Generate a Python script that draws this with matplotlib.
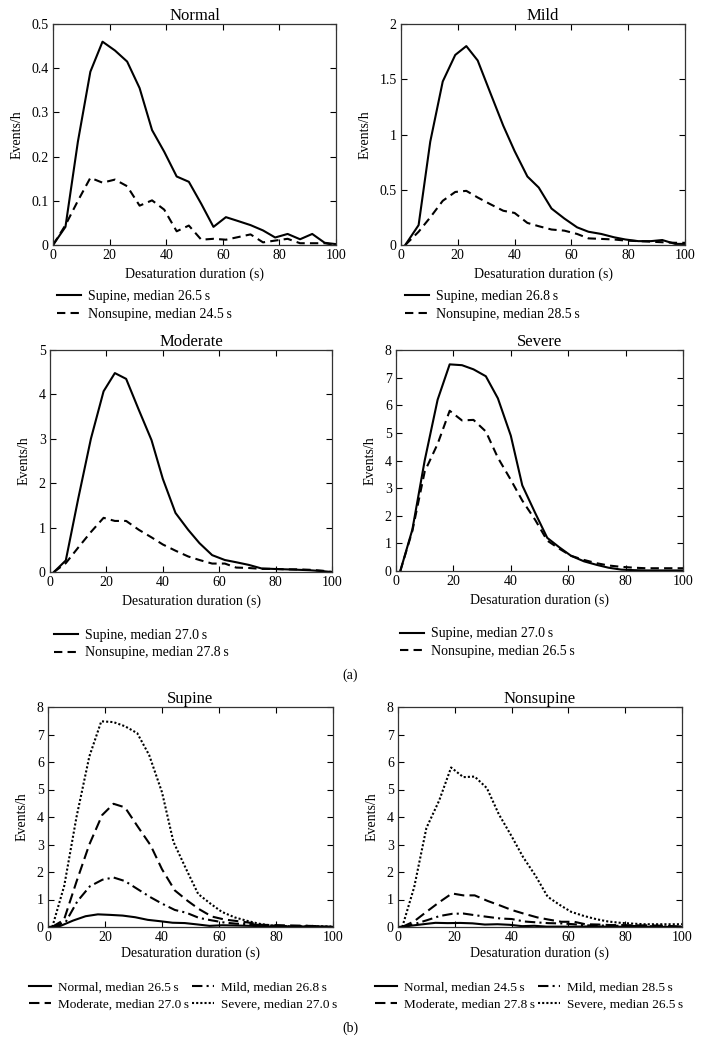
import numpy as np
import matplotlib
matplotlib.use("Agg")
import matplotlib.pyplot as plt
from matplotlib.ticker import FormatStrFormatter

plt.rcParams['font.family'] = ['Liberation Serif', 'DejaVu Serif']
plt.rcParams['font.size'] = 10

# x grids (s)
x_normal = [0, 4.4, 8.8, 13.2, 17.5, 21.9, 26.2, 30.6, 35, 39.3, 43.7, 48, 52.4,
            56.7, 61.1, 65.5, 69.8, 74.2, 78.5, 82.9, 87.3, 91.6, 96, 100]
x_mild = [1.5, 6.2, 10.3, 14.7, 19.1, 23, 27, 31.4, 36, 40, 44.5, 48.5, 53,
          57.5, 62, 66, 70.5, 75, 79, 83.5, 88, 92, 96.5, 100]
x_moderate = [1.4, 5.6, 10, 14.5, 19, 23, 27, 31.5, 36, 40, 44.5, 49, 53,
              57.5, 62, 66, 70.5, 75, 79, 83.5, 88, 92, 96.5, 100]
x_severe = [1.5, 5.7, 10, 14.5, 18.7, 23, 27, 31.3, 35.5, 40, 44, 48.5, 52.7,
            57, 61, 65.5, 70, 74, 78.5, 83, 87, 91.5, 96, 100]

normal_sup = [0, 0.041, 0.234, 0.392, 0.46, 0.44, 0.415, 0.355, 0.26, 0.211, 0.155, 0.143,
              0.093, 0.041, 0.063, 0.054, 0.045, 0.033, 0.017, 0.025, 0.013, 0.025, 0.005, 0.002]
normal_non = [0, 0.045, 0.1, 0.152, 0.141, 0.148, 0.133, 0.089, 0.101, 0.08, 0.031, 0.044,
              0.012, 0.014, 0.012, 0.018, 0.024, 0.006, 0.01, 0.014, 0.004, 0.004, 0.004, 0.0]
mild_sup = [0, 0.18, 0.935, 1.48, 1.72, 1.80, 1.67, 1.38, 1.08, 0.85, 0.62, 0.52,
            0.33, 0.24, 0.16, 0.12, 0.10, 0.07, 0.05, 0.035, 0.035, 0.045, 0.01, 0.01]
mild_non = [0, 0.12, 0.25, 0.40, 0.48, 0.49, 0.43, 0.37, 0.31, 0.29, 0.2, 0.17,
            0.14, 0.13, 0.10, 0.06, 0.055, 0.05, 0.04, 0.035, 0.03, 0.025, 0.02, 0.02]
moderate_sup = [0, 0.26, 1.65, 3.0, 4.07, 4.48, 4.35, 3.65, 2.97, 2.1, 1.33, 0.95,
                0.65, 0.38, 0.27, 0.22, 0.16, 0.08, 0.07, 0.06, 0.05, 0.04, 0.02, 0.0]
moderate_non = [0, 0.2, 0.55, 0.9, 1.22, 1.15, 1.15, 0.95, 0.78, 0.62, 0.48, 0.35,
                0.27, 0.19, 0.19, 0.1, 0.09, 0.07, 0.07, 0.06, 0.06, 0.05, 0.03, 0.0]
severe_sup = [0, 1.5, 4.0, 6.2, 7.48, 7.45, 7.3, 7.05, 6.25, 4.9, 3.1, 2.1,
              1.2, 0.85, 0.55, 0.35, 0.22, 0.12, 0.05, 0.03, 0.02, 0.02, 0.02, 0.02]
severe_non = [0, 1.45, 3.6, 4.6, 5.8, 5.45, 5.47, 5.05, 4.1, 3.3, 2.55, 1.85,
              1.1, 0.8, 0.55, 0.4, 0.28, 0.2, 0.15, 0.12, 0.1, 0.1, 0.1, 0.1]

groups = ['Normal', 'Mild', 'Moderate', 'Severe']
xs = [x_normal, x_mild, x_moderate, x_severe]
sup = [normal_sup, mild_sup, moderate_sup, severe_sup]
non = [normal_non, mild_non, moderate_non, severe_non]
med_sup = ['26.5', '26.8', '27.0', '27.0']
med_non = ['24.5', '28.5', '27.8', '26.5']
ymax = [0.5, 2, 5, 8]
yticks = [np.arange(0, 0.51, 0.1), [0, 0.5, 1, 1.5, 2], range(6), range(9)]

W, H = 702, 1042
fig = plt.figure(figsize=(W / 100, H / 100), dpi=100)


def px_axes(l, t, r, b):
    return fig.add_axes([l / W, 1 - b / H, (r - l) / W, (b - t) / H])


def style(ax, title, top, lpad=4):
    ax.set_xlim(0, 100)
    ax.set_ylim(0, top)
    ax.set_xticks([0, 20, 40, 60, 80, 100])
    ax.tick_params(direction='in', top=True, right=True, length=4, width=0.8, pad=3)
    for s in ax.spines.values():
        s.set_linewidth(0.9)
        s.set_color('#333333')
    ax.set_title(title, pad=3)
    ax.set_xlabel('Desaturation duration (s)', labelpad=lpad)
    ax.set_ylabel('Events/h', labelpad=6)


boxes = [(53, 24, 336, 245), (401, 24, 685, 245), (50, 350, 332, 572), (396, 350, 683, 571)]
leg_y = [-0.18, -0.18, -0.23, -0.23]
for i in range(4):
    ax = px_axes(*boxes[i])
    ax.plot(xs[i], sup[i], color='black', lw=1.5, ls='-',
            label='Supine, median %s\u2009s' % med_sup[i])
    ax.plot(xs[i], non[i], color='black', lw=1.5, ls=(0, (4, 2.5)),
            label='Nonsupine, median %s\u2009s' % med_non[i])
    style(ax, groups[i], ymax[i])
    ax.set_yticks(list(yticks[i]))
    ax.yaxis.set_major_formatter(FormatStrFormatter('%g'))
    ax.legend(loc='upper left', bbox_to_anchor=(-0.005, leg_y[i]), frameon=False,
              handlelength=1.7, handletextpad=0.5, labelspacing=0.35, borderaxespad=0)

fig.text(350 / W, 1 - 675 / H, '(a)', ha='center', va='center')

styles = ['-', (0, (5, 2, 1, 2)), (0, (5, 2.5)), (0, (1, 1))]
panels_b = [('Supine', sup, med_sup, (48, 707, 333, 927), -0.085),
            ('Nonsupine', non, med_non, (398, 707, 682, 927), -0.1)]
for title, series, meds, box, lx in panels_b:
    ax = px_axes(*box)
    handles = []
    for i in range(4):
        h, = ax.plot(xs[i], series[i], color='black', lw=1.5, ls=styles[i],
                     label='%s, median %s\u2009s' % (groups[i], meds[i]))
        handles.append(h)
    style(ax, title, 8, lpad=2)
    ax.set_yticks(range(9))
    # column-wise fill: Normal, Moderate | Mild, Severe
    order = [0, 2, 1, 3]
    ax.legend([handles[k] for k in order], [handles[k].get_label() for k in order],
              ncol=2, loc='upper left', bbox_to_anchor=(lx, -0.225), frameon=False,
              fontsize=9.5, handlelength=1.7, handletextpad=0.5, labelspacing=0.35,
              columnspacing=0.2, borderaxespad=0)

fig.text(350 / W, 1 - 1028 / H, '(b)', ha='center', va='center')

fig.savefig('out.png', dpi=100)
